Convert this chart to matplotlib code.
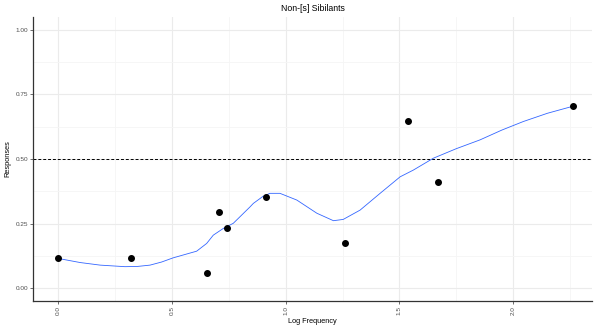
import matplotlib.pyplot as plt

plt.rcParams['font.family'] = ['Liberation Sans', 'DejaVu Sans']

# observed points
log_freq = [0.0, 0.322, 0.655, 0.709, 0.742, 0.913, 1.261, 1.538, 1.670, 2.263]
responses = [0.116, 0.115, 0.058, 0.295, 0.234, 0.352, 0.176, 0.646, 0.410, 0.705]

# smoother
smooth_x = [0.0, 0.097, 0.185, 0.294, 0.350, 0.404, 0.455, 0.505, 0.609, 0.653,
            0.682, 0.726, 0.770, 0.844, 0.858, 0.900, 0.931, 0.975, 1.049, 1.137,
            1.210, 1.253, 1.327, 1.415, 1.503, 1.561, 1.649, 1.750, 1.854, 1.950,
            2.044, 2.150, 2.257]
smooth_y = [0.115, 0.099, 0.089, 0.083, 0.084, 0.089, 0.101, 0.117, 0.143, 0.173,
            0.205, 0.231, 0.251, 0.315, 0.328, 0.355, 0.367, 0.367, 0.341, 0.290,
            0.261, 0.266, 0.302, 0.367, 0.431, 0.457, 0.503, 0.540, 0.574, 0.612,
            0.645, 0.677, 0.703]

x_ticks = [0.0, 0.5, 1.0, 1.5, 2.0]
y_ticks = [0.0, 0.25, 0.5, 0.75, 1.0]

fig = plt.figure(figsize=(5.94, 3.25), dpi=100)
ax = fig.add_axes([0.0556, 0.0738, 0.941, 0.874])

ax.set_xlim(-0.11, 2.346)
ax.set_ylim(-0.05, 1.05)

# ggplot-like grid
ax.set_xticks(x_ticks)
ax.set_yticks(y_ticks)
ax.set_xticks([0.25, 0.75, 1.25, 1.75, 2.25], minor=True)
ax.set_yticks([0.125, 0.375, 0.625, 0.875], minor=True)
ax.grid(True, which='major', color='#EBEBEB', lw=0.8)
ax.grid(True, which='minor', color='#F5F5F5', lw=0.6)
ax.tick_params(which='minor', length=0)
ax.tick_params(which='major', length=2, width=0.5, color='#333333',
               labelsize=4.6, labelcolor='#4D4D4D', pad=1.5)
ax.set_axisbelow(True)

ax.set_xticklabels(['0.0', '0.5', '1.0', '1.5', '2.0'], rotation=90, va='top')
ax.set_yticklabels(['0.00', '0.25', '0.50', '0.75', '1.00'])

for s in ['top', 'right']:
    ax.spines[s].set_visible(False)
for s in ['left', 'bottom']:
    ax.spines[s].set_color('#333333')
    ax.spines[s].set_linewidth(0.9)

ax.axhline(0.5, color='black', lw=0.7, ls=(0, (3, 2)))
ax.plot(smooth_x, smooth_y, color='#3366FF', lw=0.6)
ax.scatter(log_freq, responses, s=16, color='black', zorder=3)

ax.set_title('Non-[s] Sibilants', fontsize=6.3, pad=4)
ax.set_xlabel('Log Frequency', fontsize=5.3, labelpad=2)
ax.set_ylabel('Responses', fontsize=5.3, labelpad=3)

fig.savefig('out.png', dpi=100)
